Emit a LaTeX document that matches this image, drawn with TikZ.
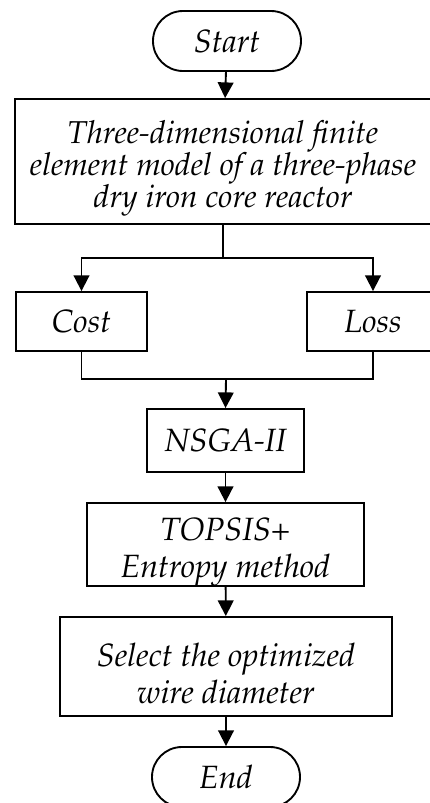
\documentclass[tikz,border=0pt]{standalone}
\usepackage[T1]{fontenc}
\usepackage{mathpazo}
\usetikzlibrary{arrows.meta,shapes.misc}
% taller first line, pushes a text block down in its box
\newcommand{\topgap}{\rule{0pt}{31.7pt}}

\begin{document}
\begin{tikzpicture}[x=0.03cm,y=-0.03cm,
    font=\fontsize{27.5}{31.5}\selectfont\itshape,
    line width=1.6pt,
    flowbox/.style={draw,rectangle,inner sep=0pt,align=center},
    terminal/.style={draw,rounded rectangle,inner sep=0pt,
      minimum width=4.44cm,minimum height=1.8cm},
    arr/.style={-{Triangle[length=0.47cm,width=0.47cm]}}]
   \useasboundingbox (0,0) rectangle (430,803);
   % boxes, top to bottom
   \node [terminal] (start) at (227,41) {Start};
   \node [flowbox,minimum width=12.48cm,minimum height=3.75cm,
     font=\fontsize{27}{27.2}\selectfont\itshape] (model) at (223,161.5)
     {\topgap Three-dimensional finite\\element model of a three-phase\\dry iron core reactor};
   \node [flowbox,minimum width=3.93cm,minimum height=1.77cm] (cost) at (81.5,321.5) {Cost};
   \node [flowbox,minimum width=3.96cm,minimum height=1.77cm] (loss) at (373,321.5) {Loss};
   \node [flowbox,minimum width=4.71cm,minimum height=1.89cm] (nsga) at (225.5,440.5) {NSGA-II};
   \node [flowbox,minimum width=8.31cm,minimum height=2.43cm] (topsis) at (225.5,544.5)
     {\topgap TOPSIS+\\Entropy method};
   \node [flowbox,minimum width=9.96cm,minimum height=2.97cm] (select) at (226,666.5)
     {\topgap Select the optimized\\wire diameter};
   \node [terminal] (end) at (226,777) {End};
   % split and merge points
   \coordinate (split) at (223,258);
   \coordinate (merge) at (226,379);
   \draw [arr] (start) -- (model);
   \draw (model.south) -- (split);
   \draw [arr] (split) -| (cost.north);
   \draw [arr] (split) -| (loss.north);
   \draw (cost.south) |- (merge);
   \draw (loss.south) |- (merge);
   \draw [arr] (merge) -- (nsga.north);
   \draw [arr] (nsga) -- (topsis);
   \draw [arr] (topsis) -- (select);
   \draw [arr] (select) -- (end);
\end{tikzpicture}
\end{document}
